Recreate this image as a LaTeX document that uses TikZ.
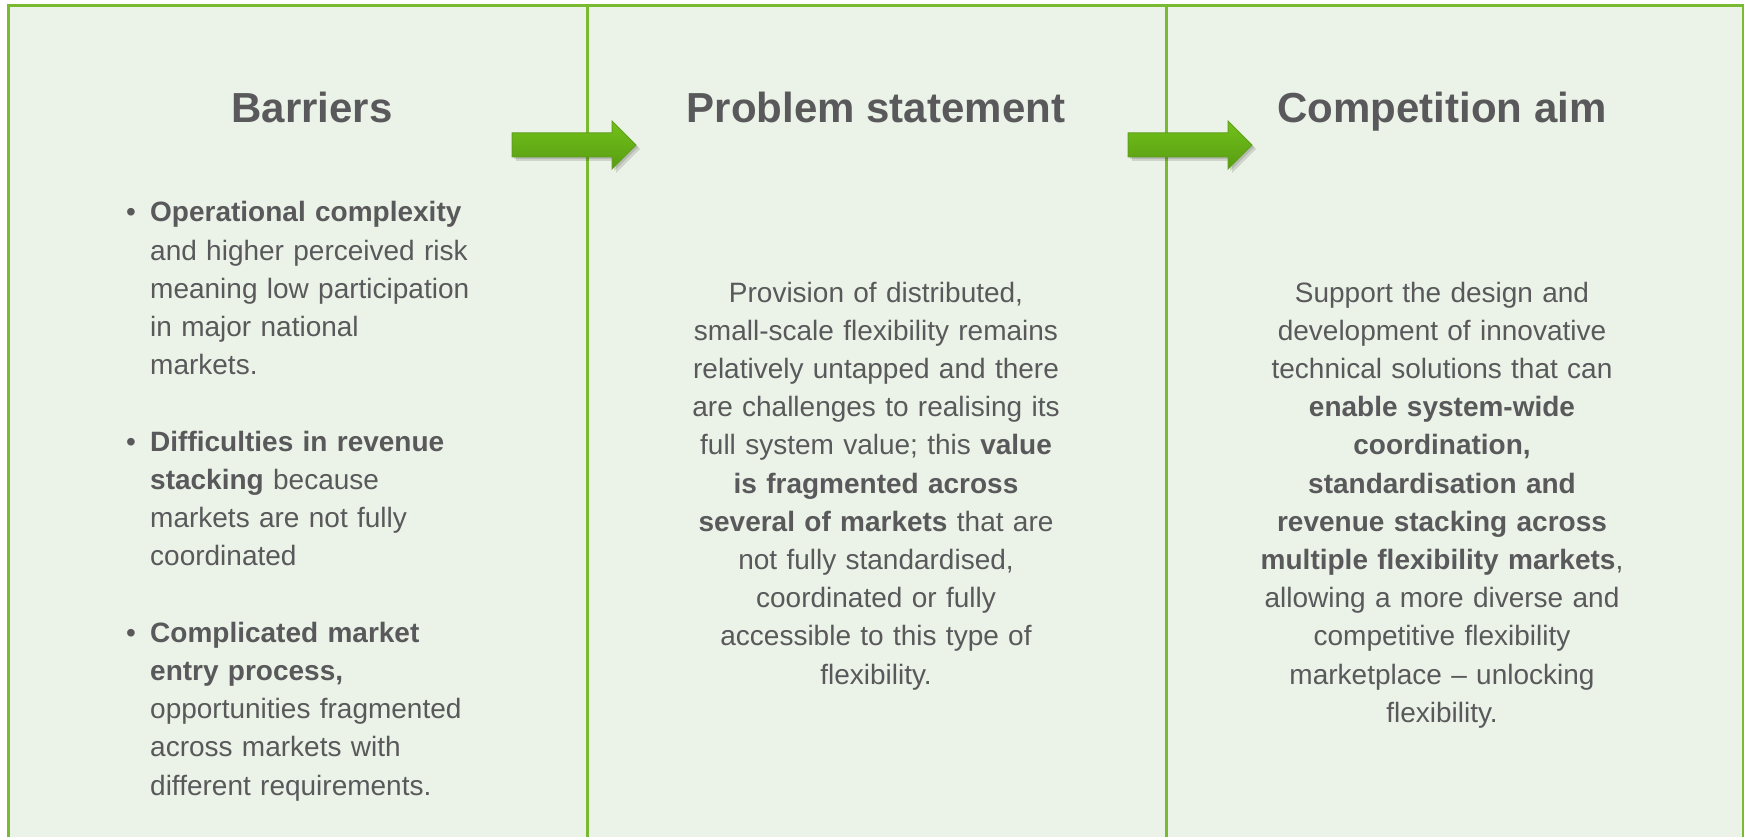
\documentclass[tikz,border=0pt]{standalone}
\usepackage{fontspec}
\setmainfont{Liberation Sans}
\usetikzlibrary{calc}
\definecolor{panelfill}{RGB}{235,242,231}
\definecolor{panelline}{RGB}{122,186,50}
\definecolor{txt}{RGB}{89,89,91}
\definecolor{arrtop}{RGB}{114,194,26}
\definecolor{arrbot}{RGB}{88,156,18}
\definecolor{arredge}{RGB}{96,160,30}
\tikzset{
  title/.style={anchor=base, inner sep=0pt, text=txt, font=\fontsize{42}{48}\selectfont\bfseries},
  bodyc/.style={anchor=base, inner sep=0pt, text=txt, text width=420pt, align=center, font=\fontsize{28}{38.2}\selectfont},
  bodyl/.style={anchor=base west, inner sep=0pt, text=txt, text width=400pt, align=left, font=\fontsize{28}{38.2}\selectfont},
  bullet/.style={anchor=base west, inner sep=0pt, text=txt, font=\fontsize{28}{38.2}\selectfont},
  frame/.style={draw=panelline, line width=3pt},
}
\newcommand{\blockarrow}[2]{% #1 start x, #2 name
  \fill[black, opacity=0.12] ($(#1+4,137)$) -- ($(#1+104,137)$) -- ($(#1+104,125)$) -- ($(#1+128,149)$) -- ($(#1+104,173)$) -- ($(#1+104,161)$) -- ($(#1+4,161)$) -- cycle;
  \fill[black, opacity=0.12] ($(#1+2,135)$) -- ($(#1+102,135)$) -- ($(#1+102,123)$) -- ($(#1+126,147)$) -- ($(#1+102,171)$) -- ($(#1+102,159)$) -- ($(#1+2,159)$) -- cycle;
  \shade[top color=arrtop, bottom color=arrbot, draw=arredge, line width=1pt]
    (#1,133) coordinate (#2s) -- ($(#1+100,133)$) -- ($(#1+100,121)$) -- ($(#1+124,145)$) coordinate (#2t) -- ($(#1+100,169)$) -- ($(#1+100,157)$) -- (#1,157) -- cycle;
}
\begin{document}
\begin{tikzpicture}[x=1pt,y=-1pt]
\useasboundingbox (0,0) rectangle (1744,837);
\fill[white] (0,0) rectangle (1744,837);
\fill[panelfill] (8,6) rectangle (1743,845);
\draw[frame] (8,845) -- (8,6) -- (1743,6) -- (1743,845);
\draw[frame] (587,6) -- (587,845);
\draw[frame] (1166,6) -- (1166,845);

% titles
\node[title] (t1) at (312,123) {Barriers};
\node[title] (t2) at (876,123) {Problem statement};
\node[title] (t3) at (1442,123) {Competition aim};

% arrows
\blockarrow{512}{a1}
\blockarrow{1128}{a2}

% barriers
\node[bullet] (b1) at (126,222) {•};
\node[bodyl] (p1) at (150,222) {\textbf{Operational complexity}\\and higher perceived risk\\meaning low participation\\in major national\\markets.};
\node[bullet] (b2) at (126,451.2) {•};
\node[bodyl] (p2) at (150,451.2) {\textbf{Difficulties in revenue}\\\textbf{stacking} because\\markets are not fully\\coordinated};
\node[bullet] (b3) at (126,642.2) {•};
\node[bodyl] (p3) at (150,642.2) {\textbf{Complicated market}\\\textbf{entry process,}\\opportunities fragmented\\across markets with\\different requirements.};

% problem statement
\node[bodyc] (ps) at (876,302) {Provision of distributed,\\small-scale flexibility remains\\relatively untapped and there\\are challenges to realising its\\full system value; this \textbf{value}\\\textbf{is fragmented across}\\\textbf{several of markets} that are\\not fully standardised,\\coordinated or fully\\accessible to this type of\\flexibility.};

% competition aim
\node[bodyc] (ca) at (1442,302) {Support the design and\\development of innovative\\technical solutions that can\\\textbf{enable system-wide}\\\textbf{coordination,}\\\textbf{standardisation and}\\\textbf{revenue stacking across}\\\textbf{multiple flexibility markets},\\allowing a more diverse and\\competitive flexibility\\marketplace – unlocking\\flexibility.};
\end{tikzpicture}
\end{document}
